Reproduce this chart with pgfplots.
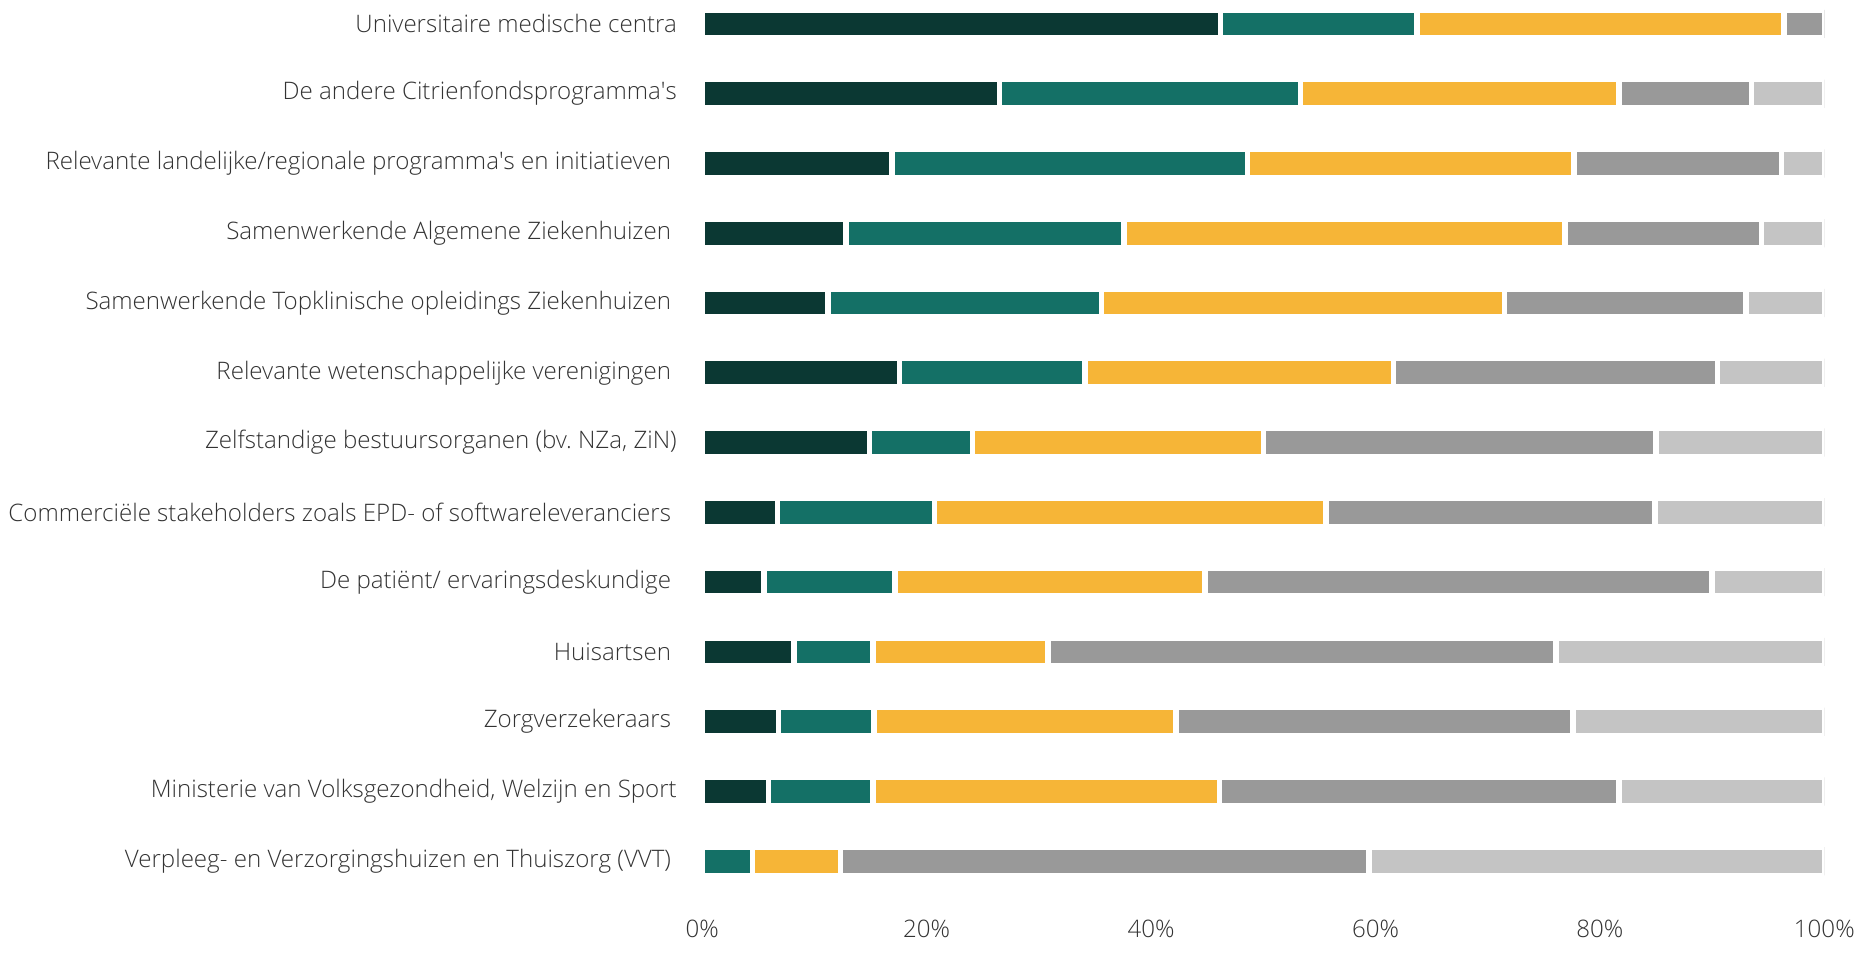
\documentclass[border=0pt]{standalone}
\usepackage{fontspec}
\setmainfont{Open Sans Light}
\usepackage{pgfplots}
\pgfplotsset{compat=1.18}
\definecolor{cA}{HTML}{0B3833}
\definecolor{cB}{HTML}{147066}
\definecolor{cC}{HTML}{F6B537}
\definecolor{cD}{HTML}{999999}
\definecolor{cE}{HTML}{C4C4C4}
\definecolor{txt}{HTML}{333333}
\pgfplotstableread{
row A B C D E
0 46.2 17.5 32.7 3.6 0
1 26.5 26.8 28.4 11.8 6.5
2 16.9 31.7 29.1 18.5 3.8
3 12.8 24.8 39.3 17.5 5.6
4 11.2 24.4 35.9 21.5 7.0
5 17.6 16.5 27.5 28.9 9.5
6 14.9 9.2 25.9 35.0 15.0
7 6.7 14.0 34.9 29.3 15.1
8 5.5 11.7 27.6 45.2 10.0
9 8.2 7.0 15.6 45.3 23.9
10 6.8 8.5 26.9 35.4 22.4
11 5.9 9.3 30.9 35.6 18.3
12 0 4.5 7.8 47.1 40.6
}\datatable
\newcommand{\tsp}{\kern2.9pt}
\newcommand{\q}{\textquotesingle}
\frenchspacing
\begin{document}
\begin{tikzpicture}[font=\fontsize{12.05}{14}\selectfont]
\begin{axis}[
  name=ax,
  scale only axis,
  width=561.05pt, height=439.6pt,
  xbar stacked,
  bar width=14.1pt,
  xmin=0, xmax=100,
  ymin=-0.3, ymax=12.3,
  y dir=reverse,
  axis line style={draw=none},
  major tick length=0pt,
  xtick={0,20,...,100},
  xticklabel={\pgfmathprintnumber{\tick}\%},
  /pgf/number format/assume math mode=true,
  xticklabel style={yshift=-15.2pt, text=txt},
  ytick={0,...,12},
  yticklabels={
    Universitaire medische centra,
    De andere Citrienfondsprogramma\q s,
    Relevante landelijke/regionale programma\q s en initiatieven\tsp,
    Samenwerkende Algemene Ziekenhuizen\tsp,
    Samenwerkende Topklinische opleidings Ziekenhuizen\tsp,
    Relevante wetenschappelijke verenigingen\tsp,
    {Zelfstandige bestuursorganen (bv. NZa, ZiN)},
    Commerciële stakeholders zoals EPD- of softwareleveranciers\tsp,
    De patiënt/ ervaringsdeskundige\tsp,
    Huisartsen\tsp,
    Zorgverzekeraars\tsp,
    {Ministerie van Volksgezondheid, Welzijn en Sport},
    Verpleeg- en Verzorgingshuizen en Thuiszorg (VVT)\tsp
  },
  yticklabel style={anchor=east, xshift=-9.2pt, text=txt},
  every axis plot/.append style={draw=white, line width=2.75pt},
]
\addplot[fill=cA, draw=white] table[x=A, y=row] {\datatable};
\addplot[fill=cB, draw=white] table[x=B, y=row] {\datatable};
\addplot[fill=cC, draw=white] table[x=C, y=row] {\datatable};
\addplot[fill=cD, draw=white] table[x=D, y=row] {\datatable};
\addplot[fill=cE, draw=white] table[x=E, y=row] {\datatable};
\end{axis}
\pgfresetboundingbox
\path[use as bounding box] ([xshift=-351.125pt,yshift=-35pt]ax.south west) rectangle ([xshift=24.33pt,yshift=1.48pt]ax.north east);
\end{tikzpicture}
\end{document}
